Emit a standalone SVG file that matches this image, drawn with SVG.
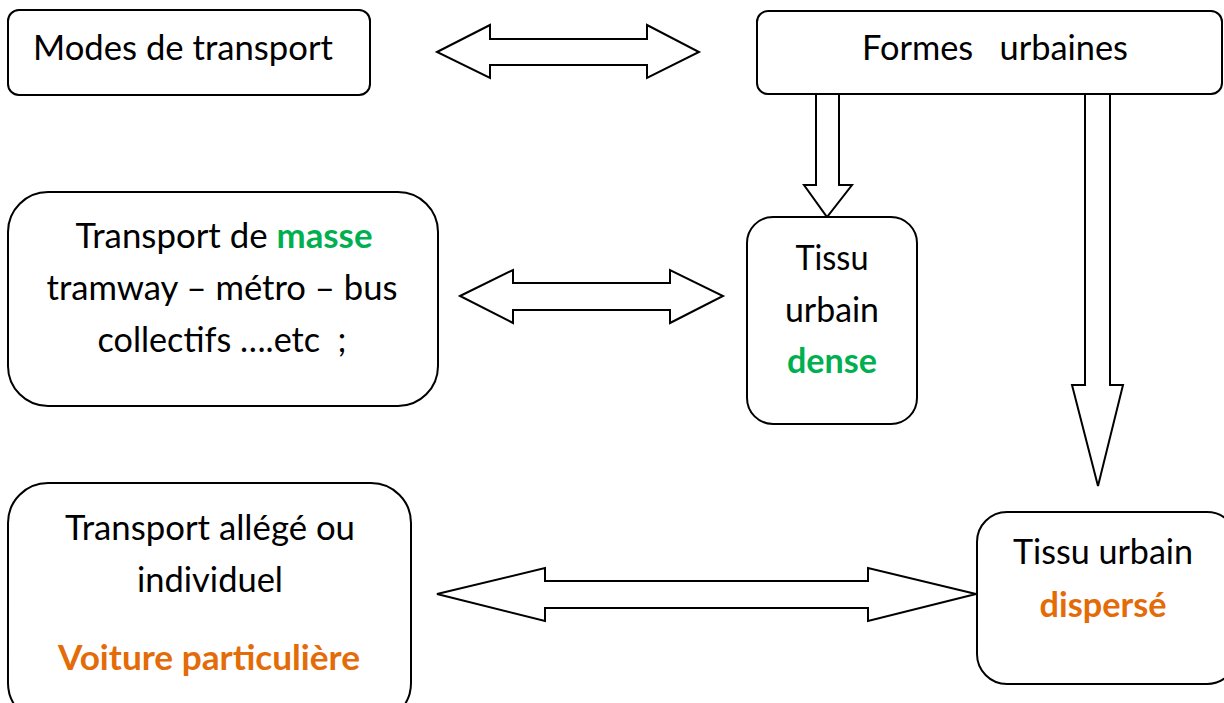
<svg xmlns="http://www.w3.org/2000/svg" width="1224" height="703" viewBox="0 0 1224 703">
<style>
.box{fill:#fff;stroke:#000;stroke-width:2}
.arr{fill:#fff;stroke:#000;stroke-width:2;stroke-linejoin:miter}
text{font-family:Lato,"Open Sans","Liberation Sans",sans-serif;font-size:34px;fill:#000;text-anchor:middle}
.g{fill:#00B050;font-weight:bold}
.o{fill:#E36C09;font-weight:bold}
</style>
<rect width="1224" height="703" fill="#fff"/>
<g id="connectors">
<polygon class="arr" points="437,52 490,25 490,39 647,39 647,25 699,52 647,78 647,65 490,65 490,78"/>
<polygon class="arr" points="460,296 513,270 513,283 670,283 670,270 723,296 670,323 670,310 513,310 513,323"/>
<polygon class="arr" points="437,594 545,568 545,581 868,581 868,568 976,594 868,621 868,608 545,608 545,621"/>
<polygon class="arr" points="816,94 839,94 839,185 852,185 827,217 804,185 816,185"/>
<polygon class="arr" points="1085,94 1110,94 1110,385 1123,385 1098,486 1072,385 1085,385"/>
</g>
<g id="modes">
<rect class="box" x="8" y="10" width="362" height="85" rx="11"/>
<text x="183" y="60" textLength="300" lengthAdjust="spacingAndGlyphs">Modes de transport</text>
</g>
<g id="formes">
<rect class="box" x="757" y="11" width="465" height="83" rx="11"/>
<text x="995" y="60" textLength="266" lengthAdjust="spacingAndGlyphs" xml:space="preserve">Formes   urbaines</text>
</g>
<g id="masse">
<rect class="box" x="8" y="192" width="430" height="214" rx="40"/>
<text x="224" y="248" textLength="297" lengthAdjust="spacingAndGlyphs">Transport de <tspan class="g">masse</tspan></text>
<text x="222" y="300" textLength="351" lengthAdjust="spacingAndGlyphs">tramway – métro – bus</text>
<text x="222" y="352" textLength="249" lengthAdjust="spacingAndGlyphs" xml:space="preserve">collectifs ….etc  ;</text>
</g>
<g id="dense">
<rect class="box" x="747" y="217" width="170" height="207" rx="26"/>
<text x="832" y="270" textLength="73" lengthAdjust="spacingAndGlyphs">Tissu</text>
<text x="832" y="322" textLength="94" lengthAdjust="spacingAndGlyphs">urbain</text>
<text x="832" y="373" class="g" textLength="90" lengthAdjust="spacingAndGlyphs">dense</text>
</g>
<g id="individuel">
<rect class="box" x="8" y="483" width="403" height="240" rx="40"/>
<text x="210" y="540" textLength="290" lengthAdjust="spacingAndGlyphs">Transport allégé ou</text>
<text x="210" y="592" textLength="146" lengthAdjust="spacingAndGlyphs">individuel</text>
<text x="209" y="670" class="o" textLength="302" lengthAdjust="spacingAndGlyphs">Voiture particulière</text>
</g>
<g id="disperse">
<rect class="box" x="977" y="512" width="260" height="172" rx="30"/>
<text x="1103" y="564" textLength="180" lengthAdjust="spacingAndGlyphs">Tissu urbain</text>
<text x="1103" y="617" class="o" textLength="127" lengthAdjust="spacingAndGlyphs">dispersé</text>
</g>
</svg>
